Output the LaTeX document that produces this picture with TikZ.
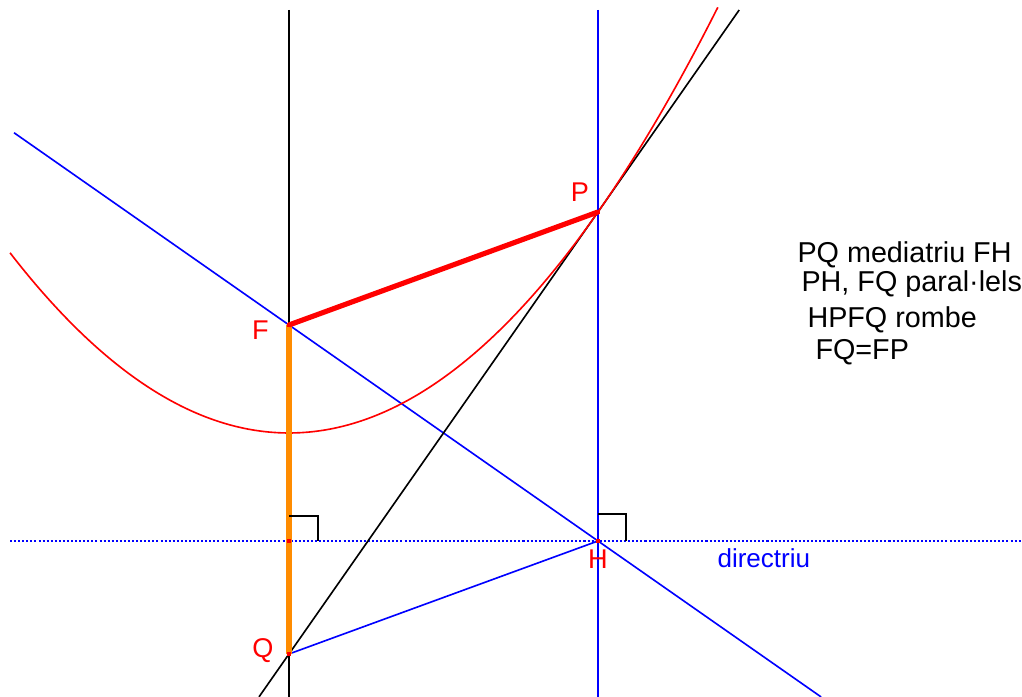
\documentclass[tikz,border=0pt]{standalone}
\usepackage{fontspec}
\setmainfont{Liberation Sans}
\usetikzlibrary{calc}
\definecolor{taronja}{RGB}{255,140,0}
\tikzset{
  thinline/.style={line width=0.6pt},
  thickseg/.style={line width=1.9pt},
  dirline/.style={blue, line width=0.75pt, dash pattern=on 0.75pt off 0.75pt},
  rtmark/.style={black, line width=0.65pt},
  lbl/.style={red, anchor=base, inner sep=0pt, font=\fontsize{10}{12}\selectfont},
  nota/.style={anchor=base west, inner sep=0pt, font=\fontsize{10.6}{12}\selectfont},
  pt/.style={fill=red}
}

\begin{document}
\begin{tikzpicture}[x=1.4cm,y=1.4cm]
  \def\xp{2.861}
  \pgfmathsetmacro{\yp}{\xp*\xp/4}
  \def\ymax{3.917}
  \useasboundingbox (-2.676,-2.444) rectangle (6.787,4.009);

  \coordinate (F) at (0,1);
  \coordinate (P) at (\xp,\yp);
  \coordinate (H) at (\xp,-1);
  \coordinate (Q) at (0,-\yp);
  \coordinate (D) at (0,-1);

  % directriu
  \draw[dirline] (-2.583,-1) -- (6.787,-1);
  \node[nota, blue, font=\fontsize{9.6}{12}\selectfont] (dir) at (3.963,-1.25) {directriu};

  % verticals
  \draw[thinline] (0,\ymax) -- (0,-2.444);
  \draw[thinline, blue] (\xp,\ymax) -- (\xp,-2.444);

  % FH and tangent PQ
  \draw[thinline, blue] ($(F)!-0.89!(H)$) -- ($(F)!1.722!(H)$);
  \draw[thinline] ($(Q)!-0.097!(P)$) -- ($(Q)!1.457!(P)$);

  % parabola
  \draw[thinline, red, samples=120, smooth, variable=\t, domain=-2.583:3.972]
    plot (\t, {\t*\t/4});

  \draw[thinline, blue] (Q) -- (H);
  \draw[thickseg, taronja] (F) -- (Q);
  \draw[thickseg, red] (F) -- (P);

  % right angles
  \draw[rtmark] ($(D)+(0,0.231)$) -- ++(0.268,0) -- ++(0,-0.231);
  \draw[rtmark] ($(H)+(0,0.25)$) -- ++(0.259,0) -- ++(0,-0.25);

  \foreach \c in {D,F,P,H,Q}
    \fill[pt] ($(\c)+(-0.022,-0.022)$) rectangle ++(0.044,0.044);

  \node[lbl] (lF) at ($(F)+(-0.264,-0.130)$) {F};
  \node[lbl] (lP) at ($(P)+(-0.167,0.093)$) {P};
  \node[lbl] (lH) at ($(H)+(0,-0.259)$) {H};
  \node[lbl] (lQ) at ($(Q)+(-0.241,-0.037)$) {Q};

  \node[nota] (n1) at (4.704,1.583) {PQ mediatriu FH};
  \node[nota] (n2) at (4.741,1.306) {PH, FQ paral·lels};
  \node[nota] (n3) at (4.796,0.981) {HPFQ rombe};
  \node[nota] (n4) at (4.870,0.676) {FQ=FP};
\end{tikzpicture}
\end{document}
